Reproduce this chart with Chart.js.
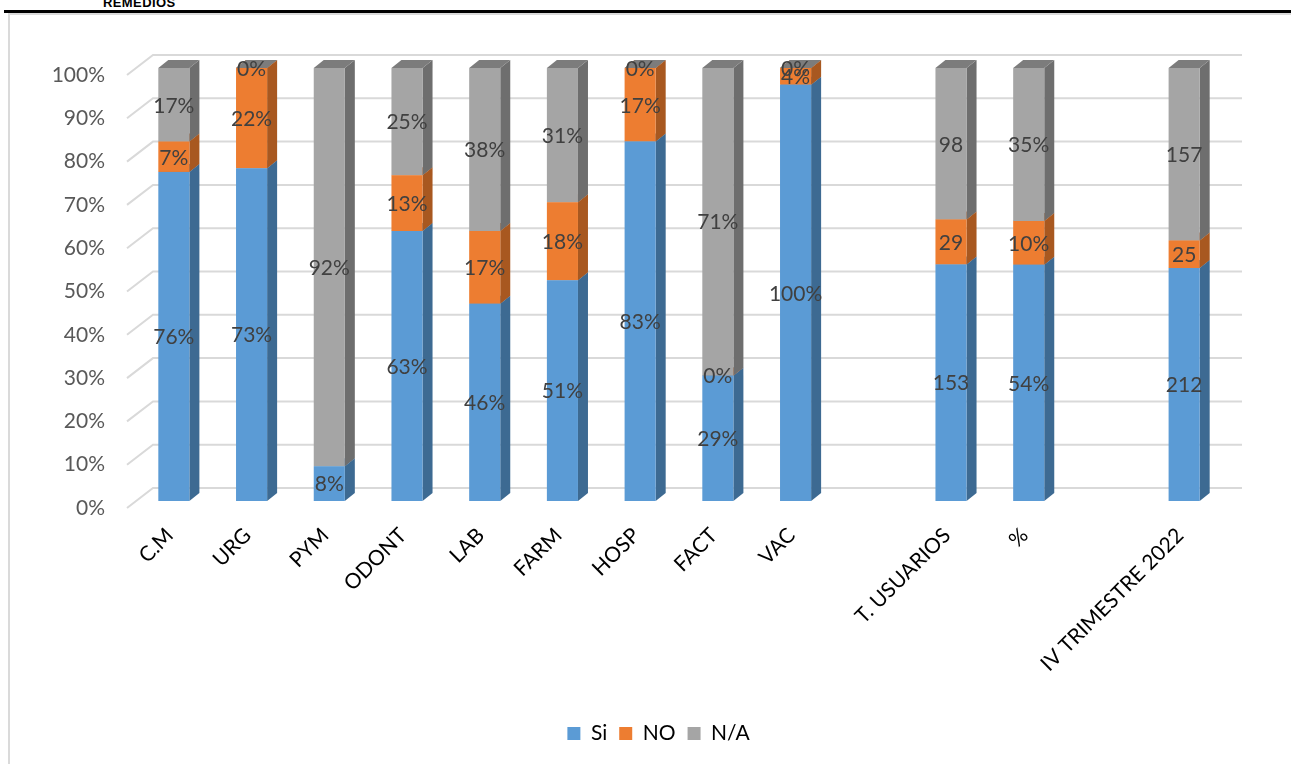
<!DOCTYPE html>
<html>
<head>
<meta charset="utf-8">
<script src="https://cdn.jsdelivr.net/npm/chart.js@4.4.1/dist/chart.umd.min.js"></script>
<style>
  html, body { margin: 0; padding: 0; background: #fff; overflow: hidden; }
  #frame { position: absolute; left: 8px; top: 13px; width: 1310px; height: 800px; border: 2px solid #dadada; box-sizing: border-box; }
  #rule { position: absolute; left: 4px; top: 10px; width: 1300px; height: 3px; background: #000; }
  #title { position: absolute; left: 103px; top: -4px; font: bold 13px "Liberation Sans", Arial, sans-serif; letter-spacing: 0.4px; line-height: 13px; color: #000; }
  #chart { position: absolute; left: 0; top: 0; }
</style>
</head>
<body>
<div id="frame"></div>
<div id="rule"></div>
<div id="title">REMEDIOS</div>
<canvas id="chart" width="1291" height="764"></canvas>
<script>
// categorias del eje x (las vacias son huecos en el grafico)
const categorias = ["C.M", "URG", "PYM", "ODONT", "LAB", "FARM", "HOSP", "FACT", "VAC", "", "T. USUARIOS", "%", "", "IV TRIMESTRE 2022"];

// valores tal como aparecen en las etiquetas
const si = [76, 73, 8, 63, 46, 51, 83, 29, 100, null, 153, 54, null, 212];
const no = [7, 22, null, 13, 17, 18, 17, 0, 4, null, 29, 10, null, 25];
const na = [17, 0, 92, 25, 38, 31, 0, 71, 0, null, 98, 35, null, 157];

// sufijo de cada etiqueta
const sufijo = ["%", "%", "%", "%", "%", "%", "%", "%", "%", "", "", "%", "", ""];

const yTicks = [0, 10, 20, 30, 40, 50, 60, 70, 80, 90, 100];

const series = [
    { label: "Si", raw: si, color: "#5B9BD5", side: "#3D6A92", top: "#4A80B0" },
    { label: "NO", raw: no, color: "#ED7D31", side: "#A85820", top: "#C26526" },
    { label: "N/A", raw: na, color: "#A5A5A5", side: "#6E6E6E", top: "#7C7C7C" }
];

// apilado al 100%
const totales = categorias.map((_, i) => series.reduce((s, d) => s + (d.raw[i] || 0), 0));
const pct = arr => arr.map((v, i) => v == null ? null : v / totales[i] * 100);

const font = { family: "Lato", size: 21 };
const dx = 10, dy = 8;

// paredes, lineas de division y caras laterales 3D
const fondo3d = {
    id: "fondo3d",
    afterLayout(chart) {
        // la leyenda va centrada en el marco completo, no en el area visible
        chart.legend.left += 47;
        chart.legend.right += 47;
    },
    beforeDatasetsDraw(chart) {
        const ctx = chart.ctx;
        const area = chart.chartArea;
        const y = chart.scales.y;
        ctx.save();
        ctx.strokeStyle = "#d9d9d9";
        ctx.lineWidth = 2;
        yTicks.forEach(t => {
            const py = y.getPixelForValue(t);
            ctx.beginPath();
            ctx.moveTo(area.left - 8, py + 7);
            ctx.lineTo(area.left + 18, py - 13);
            ctx.lineTo(area.right + 19, py - 13);
            ctx.stroke();
        });
        chart.data.labels.forEach((_, i) => {
            chart.data.datasets.forEach((d, k) => {
                if (d.data[i] == null) return;
                const el = chart.getDatasetMeta(k).data[i];
                const p = el.getProps(["x", "y", "base", "width"], true);
                const x0 = p.x - p.width / 2, x1 = p.x + p.width / 2;
                ctx.fillStyle = series[k].side;
                ctx.beginPath();
                ctx.moveTo(x1, p.y);
                ctx.lineTo(x1 + dx, p.y - dy);
                ctx.lineTo(x1 + dx, p.base - dy);
                ctx.lineTo(x1, p.base);
                ctx.closePath();
                ctx.fill();
                ctx.fillStyle = series[k].top;
                ctx.beginPath();
                ctx.moveTo(x0, p.y);
                ctx.lineTo(x1, p.y);
                ctx.lineTo(x1 + dx, p.y - dy);
                ctx.lineTo(x0 + dx, p.y - dy);
                ctx.closePath();
                ctx.fill();
            });
        });
        ctx.restore();
    },
    afterDatasetsDraw(chart) {
        const ctx = chart.ctx;
        ctx.save();
        ctx.font = "21px Lato";
        ctx.fillStyle = "#404040";
        ctx.textAlign = "center";
        ctx.textBaseline = "middle";
        chart.data.datasets.forEach((d, k) => {
            const meta = chart.getDatasetMeta(k);
            series[k].raw.forEach((v, i) => {
                if (v == null) return;
                const p = meta.data[i].getProps(["x", "y", "base"], true);
                ctx.fillText(v + sufijo[i], p.x, (p.y + p.base) / 2 + 1);
            });
        });
        ctx.restore();
    }
};

new Chart(document.getElementById("chart"), {
    type: "bar",
    data: {
        labels: categorias,
        datasets: series.map(s => ({
            label: s.label,
            data: pct(s.raw),
            backgroundColor: s.color,
            borderWidth: 0,
            categoryPercentage: 1,
            barPercentage: 0.4
        }))
    },
    options: {
        responsive: false,
        animation: false,
        layout: { padding: { left: 0, right: 68, top: 68, bottom: 10 } },
        scales: {
            x: {
                stacked: true,
                grid: { display: false },
                border: { display: false },
                ticks: { autoSkip: false, minRotation: 45, maxRotation: 45, color: "#000", font: font, padding: 14, labelOffset: -4 },
                afterFit(s) { s.height = 210; }
            },
            y: {
                stacked: true,
                min: 0,
                max: 100,
                grid: { display: false, drawTicks: false },
                border: { display: false },
                ticks: { stepSize: 10, callback: v => v + "%", labelOffset: 7, padding: 30, color: "#595959", font: font },
                afterFit(s) { s.width = 135; }
            }
        },
        plugins: {
            legend: {
                position: "bottom",
                labels: { boxWidth: 13, boxHeight: 13, color: "#000", font: font, padding: 12 }
            },
            tooltip: { enabled: false }
        }
    },
    plugins: [fondo3d]
});
</script>
</body>
</html>
